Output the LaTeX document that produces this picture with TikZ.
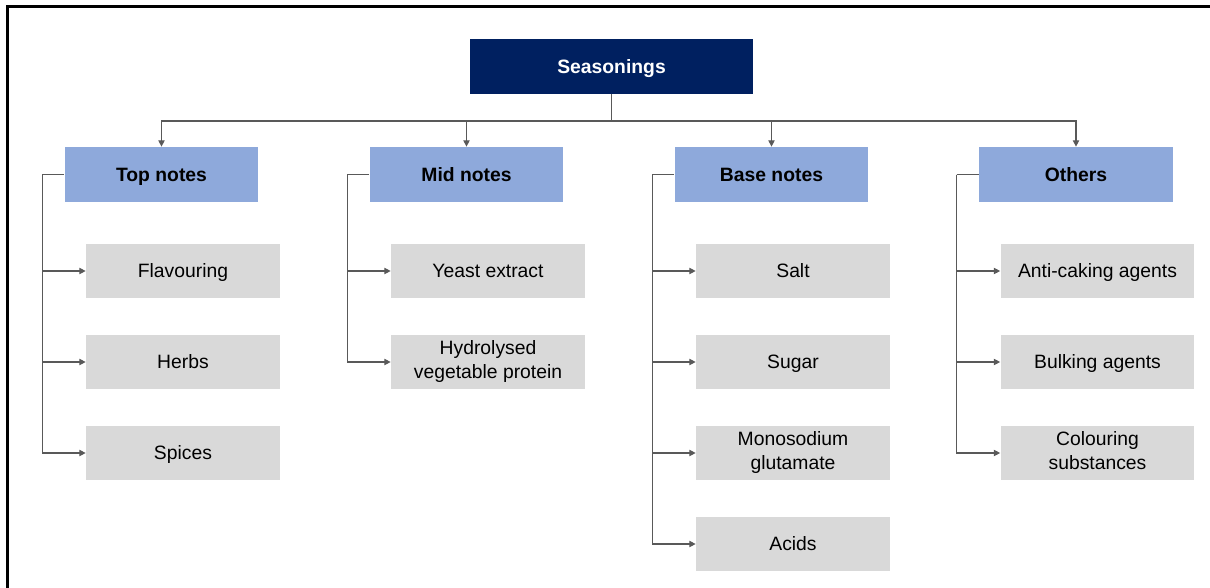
\documentclass[tikz,border=0pt]{standalone}
\usepackage{fontspec}
\setmainfont{Liberation Sans}
\usetikzlibrary{arrows.meta}

\definecolor{navy}{HTML}{002060}
\definecolor{catblue}{HTML}{8EA9DB}
\definecolor{itemgray}{HTML}{D9D9D9}
\definecolor{linegray}{HTML}{595959}

% strut that keeps caps centred in the boxes
\newcommand\capstrut{\rule[-2.5pt]{0pt}{12.9pt}}

\begin{document}
\begin{tikzpicture}[
    x=0.02cm,
    y=-0.02cm,
    every node/.style={align=center, inner sep=0pt,
                       font=\fontsize{11}{13.6}\selectfont,
                       execute at begin node=\capstrut,
                       execute at end node=\capstrut},
    root/.style={fill=navy, text=white, minimum width=5.66cm,
                 minimum height=1.1cm, font=\fontsize{11}{13.6}\selectfont\bfseries},
    cat/.style={fill=catblue, minimum width=3.88cm, minimum height=1.1cm,
                font=\fontsize{11}{13.6}\selectfont\bfseries},
    item/.style={fill=itemgray, minimum width=3.88cm, minimum height=1.08cm},
    link/.style={draw=linegray, line width=0.6pt},
    >={Triangle[length=3.6pt,width=3.6pt]}]

    \useasboundingbox (0,0) rectangle (1210,588);

    % Frame
    \draw [line width=1.3pt] (7.5,588) -- (7.5,6.5) -- (1210,6.5);

    % Root
    \node [root] (root) at (611.5,66.5) {Seasonings};
    \coordinate (bus) at (611.5,121);

    % Groups
    \foreach \c/\x/\name/\items in {
        top/161.5/Top notes/{Flavouring,Herbs,Spices},
        mid/466.5/Mid notes/{Yeast extract,Hydrolysed\\vegetable protein},
        base/771.5/Base notes/{Salt,Sugar,Monosodium\\glutamate,Acids},
        oth/1076/Others/{Anti-caking agents,Bulking agents,Colouring\\substances}} {

      % Group head
      \node [cat] (\c) at (\x, 174.5) {\name};
      \draw [link, ->] (root.south) -- (root.south |- bus) -| (\c.north);

      % Side rail
      \coordinate (\c-s) at ([xshift=-0.44cm]\c.west);
      \draw [link] (\c.west) -- (\c-s);

      % Items
      \foreach \t [count=\i] in \items {
        \pgfmathsetmacro\y{271 + (\i-1)*91}
        \node [item] (\c-\i) at (\x + 21.5, \y) {\t};
        \draw [link, ->] (\c-s) |- (\c-\i.west);
      }
    }
  \end{tikzpicture}
\end{document}
